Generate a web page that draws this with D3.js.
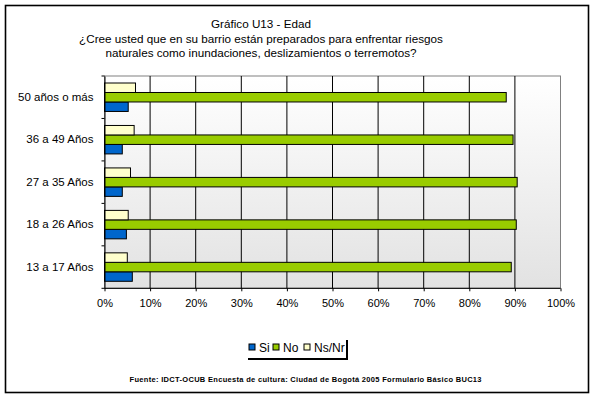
<!DOCTYPE html>
<html>
<head>
<meta charset="utf-8">
<script src="https://cdn.jsdelivr.net/npm/d3@7"></script>
<style>
  body { margin: 0; background: #fff; }
  text { font-family: Arial, "Liberation Sans", sans-serif; fill: #000; }
</style>
</head>
<body>
<div id="chart-area"></div>
<script>
// data (top category first)
var categories = ["50 años o más", "36 a 49 Años", "27 a 35 Años", "18 a 26 Años", "13 a 17 Años"];
var seriesNames = ["Si", "No", "Ns/Nr"];
var si   = [5.2, 3.9, 3.9, 4.8, 6.1];
var no   = [88.1, 89.6, 90.5, 90.3, 89.2];
var nsnr = [6.8, 6.5, 5.7, 5.2, 5.0];
var xTicks = [0, 10, 20, 30, 40, 50, 60, 70, 80, 90, 100];
var colors = {"Si": "#0066CC", "No": "#99CC00", "Ns/Nr": "#FFFFCC"};

var width = 595, height = 399;
var plot = {left: 104.5, right: 560.5, top: 76, bottom: 288.3};

var svg = d3.select("#chart-area").append("svg")
    .attr("width", width)
    .attr("height", height);

// outer frame
svg.append("rect")
    .attr("x", 5.5).attr("y", 5.5)
    .attr("width", 583).attr("height", 387)
    .attr("fill", "#fff")
    .attr("stroke", "#000")
    .attr("stroke-width", 1.6);

// title
var titleLines = ["Gráfico U13 - Edad",
    "¿Cree usted que en su barrio están preparados para enfrentar riesgos",
    "naturales como inundaciones, deslizamientos o terremotos?"];
svg.append("g").selectAll("text").data(titleLines).enter()
    .append("text")
    .attr("x", 261)
    .attr("y", (d, i) => 28 + i * 14.5)
    .attr("text-anchor", "middle")
    .attr("font-size", "11.7px")
    .text(d => d);

// gradient background
var defs = svg.append("defs");
var grad = defs.append("linearGradient")
    .attr("id", "bg").attr("x1", 0).attr("y1", 0).attr("x2", 0).attr("y2", 1);
grad.append("stop").attr("offset", "0%").attr("stop-color", "#ffffff");
grad.append("stop").attr("offset", "100%").attr("stop-color", "#e2e2e2");

svg.append("rect")
    .attr("x", plot.left).attr("y", plot.top)
    .attr("width", plot.right - plot.left)
    .attr("height", plot.bottom - plot.top)
    .attr("fill", "url(#bg)")
    .attr("stroke", "#808080")
    .attr("stroke-width", 1);

var x = d3.scaleLinear().domain([0, 100]).range([plot.left, plot.right]);

var y0 = d3.scaleBand()
    .domain(categories)
    .range([plot.top, plot.bottom])
    .paddingInner(0.33)
    .paddingOuter(0.165);

var y1 = d3.scaleBand()
    .domain(["Ns/Nr", "No", "Si"])
    .range([0, y0.bandwidth()]);

// gridlines
svg.append("g").selectAll("line").data(xTicks.slice(1, -1)).enter()
    .append("line")
    .attr("x1", d => x(d)).attr("x2", d => x(d))
    .attr("y1", plot.top).attr("y2", plot.bottom)
    .attr("stroke", "#000").attr("stroke-width", 1);

// bars
var rows = categories.map((c, i) => ({cat: c, values: [
    {key: "Si", v: si[i]}, {key: "No", v: no[i]}, {key: "Ns/Nr", v: nsnr[i]}]}));

var groups = svg.append("g").selectAll("g").data(rows).enter()
    .append("g")
    .attr("transform", d => "translate(0," + y0(d.cat) + ")");

groups.selectAll("rect").data(d => d.values).enter()
    .append("rect")
    .attr("x", x(0))
    .attr("y", d => y1(d.key))
    .attr("width", d => x(d.v) - x(0))
    .attr("height", y1.bandwidth())
    .attr("fill", d => colors[d.key])
    .attr("stroke", "#000")
    .attr("stroke-width", 1);

// axes
var leftAxis = d3.axisLeft(y0).tickSize(0).tickPadding(11);
var gl = svg.append("g")
    .attr("transform", "translate(" + plot.left + ",0)")
    .call(leftAxis);
gl.select(".domain").attr("stroke", "#000");
gl.selectAll("text").attr("font-size", "11.5px").attr("font-family", "Arial, 'Liberation Sans', sans-serif");
// category separator ticks
var sepTicks = categories.map(c => y0(c) - y0.step() * y0.paddingInner() / 2).concat([plot.bottom]);
sepTicks[0] = plot.top;
svg.append("g").selectAll("line").data(sepTicks).enter()
    .append("line")
    .attr("x1", plot.left - 3).attr("x2", plot.left)
    .attr("y1", d => d).attr("y2", d => d)
    .attr("stroke", "#000");

var bottomAxis = d3.axisBottom(x)
    .tickValues(xTicks)
    .tickSize(3)
    .tickPadding(8)
    .tickFormat(d => d + "%");
var gb = svg.append("g")
    .attr("transform", "translate(0," + plot.bottom + ")")
    .call(bottomAxis);
gb.select(".domain").attr("d", "M" + plot.left + ",0H" + plot.right).attr("stroke", "#000");
gb.selectAll("text").attr("font-size", "11px").attr("font-family", "Arial, 'Liberation Sans', sans-serif");

// legend
var legend = svg.append("g").attr("transform", "translate(246,338)");
legend.append("rect")
    .attr("x", 2).attr("y", 2).attr("width", 100).attr("height", 20)
    .attr("fill", "#000");
legend.append("rect")
    .attr("x", 0).attr("y", 0).attr("width", 100).attr("height", 20)
    .attr("fill", "#fff");
var legendX = [3, 27, 58];
var items = legend.selectAll("g.item").data(seriesNames).enter()
    .append("g")
    .attr("transform", (d, i) => "translate(" + legendX[i] + ",5)");
items.append("rect")
    .attr("width", 6).attr("height", 6).attr("y", 1)
    .attr("fill", d => colors[d])
    .attr("stroke", "#000");
items.append("text")
    .attr("x", 10).attr("y", 9)
    .attr("font-size", "12px")
    .text(d => d);

// source note
svg.append("text")
    .attr("x", 129.5)
    .attr("y", 382)
    .attr("font-size", "7.5px")
    .attr("font-weight", "bold")
    .attr("textLength", 352)
    .attr("lengthAdjust", "spacing")
    .text("Fuente: IDCT-OCUB Encuesta de cultura: Ciudad de Bogotá 2005 Formulario Básico  BUC13");
</script>
</body>
</html>
